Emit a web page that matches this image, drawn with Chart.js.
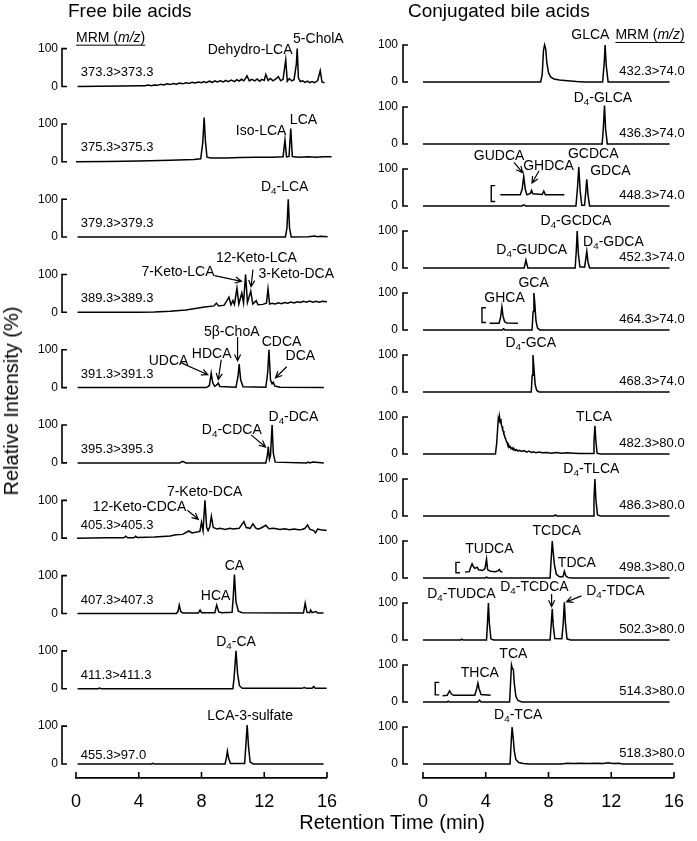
<!DOCTYPE html>
<html>
<head>
<meta charset="utf-8">
<script src="https://cdn.jsdelivr.net/npm/chart.js@4.4.0/dist/chart.umd.min.js"></script>
<style>
body{margin:0;background:#fff;width:697px;height:841px;position:relative;overflow:hidden;font-family:"Liberation Sans",Arial,sans-serif;color:#000}
canvas{position:absolute;top:0}
.t{position:absolute;white-space:nowrap;line-height:1}
</style>
</head>
<body>
<canvas id="cl" width="350" height="841" style="left:0"></canvas>
<canvas id="cr" width="347" height="841" style="left:350px"></canvas>
<div class="t" style="left:68px;top:1px;font-size:19px">Free bile acids</div>
<div class="t" style="left:408px;top:1px;font-size:19px">Conjugated bile acids</div>
<div class="t" style="left:11px;top:401px;font-size:20px;transform:translate(-50%,-50%) rotate(-90deg)">Relative Intensity (%)</div>
<div class="t" style="left:392px;top:822px;font-size:20px;transform:translate(-50%,-50%)">Retention Time (min)</div>
<script>
const F='"Liberation Sans", Arial, sans-serif';
const X_TICKS=[0,4,8,12,16];
const Y_TICKS=[0,100];

// MRM transitions, top to bottom
const LEFT_MRM=['373.3>373.3','375.3>375.3','379.3>379.3','389.3>389.3','391.3>391.3','395.3>395.3','405.3>405.3','407.3>407.3','411.3>411.3','455.3>97.0'];
const RIGHT_MRM=['432.3>74.0','436.3>74.0','448.3>74.0','452.3>74.0','464.3>74.0','468.3>74.0','482.3>80.0','486.3>80.0','498.3>80.0','502.3>80.0','514.3>80.0','518.3>80.0'];
const LEFT_MRM_V=[37,37,37,36,36,36,34,34,34,24];

// free bile acids traces [time, relative intensity]
const T373=[[0.1,0],[1.5,0.5],[3,1],[4,2],[4.4,2],[4.6,4],[4.8,2],[5.0,4],[5.2,3],[5.4,6],[5.6,4],[5.8,7],[6,5],[6.2,8],[6.4,6],[6.6,9],[6.8,7],[7.0,10],[7.2,8],[7.4,11],[7.6,9],[7.8,12],[8,10],[8.15,13],[8.3,10],[8.5,14],[8.7,11],[8.85,15],[9,12],[9.2,15],[9.4,12],[9.55,16],[9.7,13],[9.9,17],[10.1,13],[10.25,18],[10.4,14],[10.55,19],[10.7,15],[10.9,28],[11.05,15],[11.2,19],[11.4,15],[11.55,20],[11.7,14],[11.85,19],[12,16],[12.1,32],[12.25,16],[12.4,21],[12.55,15],[12.7,19],[12.9,26],[13.05,15],[13.2,19],[13.37,71],[13.47,14],[13.6,21],[13.75,15],[13.9,18],[14.05,60],[14.1,100],[14.18,22],[14.3,13],[14.45,15],[14.6,11],[14.75,14],[14.9,10],[15.05,13],[15.2,10],[15.4,15],[15.57,42],[15.68,12],[15.84,10]];
const T375=[[0,0],[2,1],[4,2],[6,4],[7.5,6],[7.95,8],[8.08,50],[8.17,117],[8.25,55],[8.35,12],[8.6,10],[9.5,10],[10.5,11],[11.5,12],[12.5,12],[13.2,13],[13.32,58],[13.42,13],[13.58,14],[13.69,88],[13.79,14],[14.2,12],[14.8,13],[15.3,12],[15.8,13],[16.29,13]];
const T379=[[0.1,0],[13.35,0],[13.45,25],[13.53,100],[13.61,25],[13.72,0],[14.8,1],[15.2,3],[15.4,1],[15.6,2],[16.04,1]];
const T389=[[0.1,0],[4,0],[5,1],[6,3],[7,6],[7.6,10],[8.2,14],[8.8,17],[8.95,24],[9.1,17],[9.45,19],[9.75,40],[9.88,20],[10.0,31],[10.1,21],[10.26,64],[10.38,22],[10.57,51],[10.68,25],[10.81,100],[10.93,26],[11.14,56],[11.27,22],[11.49,31],[11.6,20],[11.9,21],[12.14,24],[12.24,62],[12.34,22],[12.5,24],[12.7,22],[12.9,25],[13.1,23],[13.3,26],[13.5,24],[13.7,27],[13.9,25],[14.1,28],[14.3,26],[14.5,29],[14.7,27],[14.9,30],[15.1,27],[15.3,29],[15.5,27],[15.7,29],[16.0,28]];
const T391=[[0.1,0],[8.3,0],[8.5,5],[8.62,38],[8.72,12],[8.85,3],[9.0,8],[9.07,12],[9.17,3],[10.2,1],[10.33,30],[10.4,62],[10.5,20],[10.65,2],[12.1,1],[12.22,40],[12.3,100],[12.4,20],[12.5,10],[12.57,14],[12.68,4],[13,1],[15.8,0]];
const T395=[[0.1,0],[6.6,0],[6.8,4],[7.0,0],[12.1,0],[12.2,20],[12.26,43],[12.33,10],[12.4,20],[12.5,100],[12.58,25],[12.7,2],[14.7,0],[14.8,2],[14.9,0],[15.1,2],[15.8,0]];
const T405=[[0.06,0],[2,1],[3.05,1],[3.17,5],[3.3,1],[3.7,1],[3.8,5],[3.9,2],[5,3],[6,6],[6.37,9],[6.8,10],[7.19,19],[7.4,14],[7.7,16],[7.9,18],[8.0,42],[8.1,20],[8.22,100],[8.33,28],[8.42,20],[8.53,30],[8.63,58],[8.75,28],[9.0,24],[9.2,26],[9.5,23],[9.8,26],[10,24],[10.4,26],[10.7,44],[10.85,28],[11.1,26],[11.28,38],[11.45,27],[11.6,24],[11.8,27],[12.1,34],[12.3,25],[12.6,26],[13,23],[13.3,25],[13.6,22],[13.9,24],[14.2,22],[14.4,23],[14.6,26],[14.76,35],[14.9,24],[15.15,20],[15.27,14],[15.4,24],[15.6,22],[15.98,20]];
const T407=[[0.1,0],[6.4,0],[6.5,5],[6.58,22],[6.68,5],[6.8,1],[7.8,1],[7.91,9],[8.0,2],[8.85,2],[8.97,22],[9.1,4],[9.3,2],[9.95,3],[10.02,40],[10.1,103],[10.2,30],[10.35,6],[10.6,2],[14.5,1],[14.61,27],[14.72,3],[14.9,2],[14.96,9],[15.05,2],[15.3,5],[15.4,1],[15.78,1]];
const T411=[[0.1,0],[1.4,0],[1.5,2],[1.6,0],[10.0,0],[10.08,30],[10.2,100],[10.3,40],[10.42,8],[10.6,1],[14.4,1],[14.55,3],[14.7,1],[15.05,1],[15.16,6],[15.25,1],[15.98,1]];
const T455=[[0.1,0],[4.8,0],[4.9,2],[5.0,0],[9.5,0],[9.58,15],[9.65,34],[9.73,15],[9.85,1],[10.75,1],[10.83,50],[10.91,103],[11.0,45],[11.1,5],[11.3,0],[15.78,0]];

// conjugated bile acids traces
const T432=[[0,0],[7.5,0],[7.6,20],[7.68,85],[7.75,100],[7.82,90],[7.9,50],[8.0,25],[8.15,13],[8.35,8],[8.7,5],[9.2,3],[9.8,1],[10.3,0],[11.45,0],[11.55,50],[11.61,100],[11.68,45],[11.8,0],[15.72,0]];
const T436=[[0,0],[11.42,0],[11.5,45],[11.57,104],[11.64,40],[11.75,0],[15.72,0]];
const T448=[[0,0],[6.3,0],[6.42,3],[6.55,0],[9.75,0],[9.85,50],[9.93,105],[10.02,40],[10.12,2],[10.3,2],[10.38,40],[10.44,72],[10.52,30],[10.62,0],[15.72,0]];
const T452=[[0,0],[6.45,0],[6.56,21],[6.68,0],[9.7,0],[9.77,45],[9.83,100],[9.9,40],[10.0,3],[10.3,2],[10.38,25],[10.44,45],[10.52,15],[10.62,0],[15.72,0]];
const T464=[[0,0],[5.05,0],[5.13,3],[5.22,0],[6.95,0],[7.02,50],[7.07,100],[7.13,70],[7.2,25],[7.3,5],[7.45,0],[15.72,0]];
const T468=[[0,0],[6.9,0],[6.96,45],[7.01,100],[7.07,65],[7.15,20],[7.25,4],[7.4,0],[15.72,0]];
const T482=[[0,0],[4.62,0],[4.7,30],[4.76,70],[4.8,95],[4.84,86],[4.88,100],[4.92,84],[4.96,95],[5.0,78],[5.04,74],[5.08,64],[5.12,62],[5.16,52],[5.2,50],[5.24,42],[5.28,40],[5.32,33],[5.36,31],[5.4,25],[5.45,26],[5.5,19],[5.56,20],[5.62,14],[5.68,16],[5.74,11],[5.8,14],[5.88,9],[5.95,12],[6.05,8],[6.15,10],[6.3,7],[6.45,9],[6.6,5],[6.75,8],[6.9,4],[7.05,6],[7.2,3],[7.4,5],[7.6,3],[7.9,4],[8.2,2],[8.5,4],[8.8,2],[9.2,3],[9.6,2],[10.0,1],[10.85,1],[10.9,35],[10.96,76],[11.02,35],[11.1,2],[11.3,0],[15.72,0]];
const T486=[[0,0],[8.35,0],[8.44,3],[8.53,0],[10.85,0],[10.9,45],[10.96,100],[11.02,45],[11.12,3],[11.3,0],[15.72,0]];
const T498=[[0,0],[3.95,0],[4.05,2],[4.15,0],[8.1,0],[8.17,50],[8.24,100],[8.3,70],[8.38,35],[8.5,10],[8.7,3],[8.92,3],[9.01,18],[9.1,6],[9.25,1],[9.5,0],[15.72,0]];
const T502=[[0,0],[2.4,0],[2.47,2],[2.55,0],[4.05,0],[4.11,45],[4.17,100],[4.23,45],[4.33,3],[4.5,0],[8.1,0],[8.17,40],[8.24,84],[8.3,40],[8.4,4],[8.85,3],[8.94,45],[9.01,102],[9.08,45],[9.18,3],[9.4,0],[15.72,0]];
const T514=[[0,0],[1.55,0],[1.61,2],[1.68,0],[3.5,0],[3.6,5],[3.7,0],[5.52,0],[5.58,50],[5.64,100],[5.7,90],[5.76,88],[5.82,50],[5.92,15],[6.05,4],[6.3,0],[15.72,0]];
const T518=[[0,0],[5.55,0],[5.61,50],[5.68,100],[5.75,70],[5.82,35],[5.92,12],[6.1,4],[6.4,1],[6.8,0],[8.8,0],[9.2,2],[9.6,1],[10.0,2],[10.5,1],[11.0,2],[11.5,1],[11.8,3],[12.1,1],[12.5,2],[12.7,0],[15.96,0]];

// magnified insets (panel index, trace)
const I448=[[4.93,30],[6.2,30],[6.32,45],[6.42,80],[6.52,45],[6.62,30],[6.85,34],[6.92,42],[7.0,33],[7.6,31],[7.7,40],[7.8,30],[9.01,30]];
const I464=[[4.25,18],[4.85,18],[4.95,35],[5.03,62],[5.1,38],[5.2,22],[5.35,19],[6.05,18]];
const I498=[[2.68,16],[2.95,17],[3.05,30],[3.13,38],[3.22,30],[3.3,26],[3.45,29],[3.55,22],[3.8,20],[3.95,25],[4.05,51],[4.12,22],[4.3,18],[4.6,17],[4.78,19],[4.86,23],[4.95,17],[5.07,16]];
const I514=[[1.25,17],[1.55,18],[1.65,27],[1.7,30],[1.8,22],[1.95,18],[3.3,18],[3.42,35],[3.5,51],[3.58,35],[3.7,20],[4.31,18]];

const LEFT_TRACES=[T373,T375,T379,T389,T391,T395,T405,T407,T411,T455];
const RIGHT_TRACES=[T432,T436,T448,T452,T464,T468,T482,T486,T498,T502,T514,T518];
const RIGHT_INSETS=[[2,I448],[4,I464],[8,I498],[10,I514]];
// [panel, time, low, high]
const INSET_BRACKETS=[[2,4.35,12,55],[4,3.76,20,60],[8,2.1,14,42],[10,0.78,19,53]];

// peak names [panel, time, level, text]
const LEFT_LABELS=[[0,11.1,95,'Dehydro-LCA'],[0,15.45,126,'5-CholA'],[1,11.8,81,'Iso-LCA'],[1,14.5,110,'LCA'],[2,13.3,132,'D_4-LCA'],
 [3,6.5,105,'7-Keto-LCA'],[3,11.5,142,'12-Keto-LCA'],[3,14.04,100,'3-Keto-DCA'],
 [4,5.9,71,'UDCA'],[4,8.65,89,'HDCA'],[4,9.93,147,'5β-ChoA'],[4,13.1,121,'CDCA'],[4,14.3,82,'DCA'],
 [5,9.93,87,'D_4-CDCA'],[5,13.86,121,'D_4-DCA'],[6,4.05,82,'12-Keto-CDCA'],[6,8.2,121,'7-Keto-DCA'],
 [7,8.9,47,'HCA'],[7,10.1,126,'CA'],[8,10.2,124,'D_4-CA'],[9,11.1,126,'LCA-3-sulfate']];
const LEFT_ARROWS=[[3,8.83,97,10.55,82],[3,11.28,113,11.16,68],[4,6.68,66,8.4,34],[4,9.26,74,9.07,21],[4,10.3,134,10.3,71],[4,13.43,55,12.72,26],[5,11.16,74,12.08,42],[6,7.1,74,7.8,50]];
const RIGHT_LABELS=[[0,10.67,127,'GLCA'],[1,11.47,124,'D_4-GLCA'],[2,4.85,135,'GUDCA'],[2,8.0,108,'GHDCA'],[2,10.85,140,'GCDCA'],[2,11.95,95,'GDCA'],
 [3,9.75,127,'D_4-GCDCA'],[3,12.14,70,'D_4-GDCA'],[3,6.93,49,'D_4-GUDCA'],[4,5.2,86,'GHCA'],[4,7.05,127,'GCA'],[5,6.87,132,'D_4-GCA'],
 [6,10.9,100,'TLCA'],[7,10.73,127,'D_4-TLCA'],[8,4.23,78,'TUDCA'],[8,8.52,127,'TCDCA'],[8,9.81,41,'TDCA'],
 [9,2.45,124,'D_4-TUDCA'],[9,7.1,143,'D_4-TCDCA'],[9,12.26,132,'D_4-TDCA'],[10,3.62,78,'THCA'],[10,5.76,130,'TCA'],[11,6.07,132,'D_4-TCA']];
const RIGHT_ARROWS=[[2,5.8,118,6.35,90],[2,7.4,95,6.95,62],[9,8.2,124,8.2,90],[9,10.1,119,9.15,103]];

function setFont(ctx,size,style){ctx.font=(style||'')+' '+size+'px '+F;}
function drawRich(ctx,str,x,y,size,align){
  const parts=str.split(/_(\d)/);
  let w=0;
  parts.forEach((p,i)=>{setFont(ctx,i%2?size*0.7:size);w+=ctx.measureText(p).width;});
  let cx=align==='left'?x:align==='right'?x-w:x-w/2;
  ctx.textAlign='left';ctx.textBaseline='middle';
  parts.forEach((p,i)=>{
    const sub=i%2;setFont(ctx,sub?size*0.7:size);
    ctx.fillText(p,cx,y+(sub?size*0.3:0));cx+=ctx.measureText(p).width;
  });
}
function drawMRM(ctx,x,y,align){
  setFont(ctx,14);const wa=ctx.measureText('MRM (').width,wc=ctx.measureText(')').width;
  setFont(ctx,14,'italic');const wm=ctx.measureText('m/z').width;
  const w=wa+wm+wc,x0=align==='right'?x-w:x;
  ctx.textAlign='left';ctx.textBaseline='middle';
  setFont(ctx,14);ctx.fillText('MRM (',x0,y);ctx.fillText(')',x0+wa+wm,y);
  setFont(ctx,14,'italic');ctx.fillText('m/z',x0+wa,y);
  ctx.lineWidth=1;ctx.beginPath();ctx.moveTo(x0,y+7.5);ctx.lineTo(x0+w,y+7.5);ctx.stroke();
}
function arrow(ctx,x1,y1,x2,y2){
  const a=Math.atan2(y2-y1,x2-x1),h=7;
  ctx.beginPath();ctx.moveTo(x1,y1);ctx.lineTo(x2,y2);
  ctx.moveTo(x2-h*Math.cos(a-0.45),y2-h*Math.sin(a-0.45));ctx.lineTo(x2,y2);
  ctx.lineTo(x2-h*Math.cos(a+0.45),y2-h*Math.sin(a+0.45));ctx.stroke();
}

const overlay={id:'overlay',afterDatasetsDraw(chart,args,o){
  const ctx=chart.ctx,xs=chart.scales.x,ca=chart.chartArea;
  const Y=i=>chart.scales['y'+i];
  const px=t=>xs.getPixelForValue(t);
  ctx.save();ctx.strokeStyle='#000';ctx.fillStyle='#000';ctx.lineCap='butt';
  // intensity brackets
  ctx.lineWidth=1.6;
  o.mrm.forEach((m,i)=>{
    const s=Y(i),x0=ca.left-o.gap,t=s.getPixelForValue(Y_TICKS[1]),b=s.getPixelForValue(Y_TICKS[0]);
    ctx.beginPath();ctx.moveTo(x0+5,t);ctx.lineTo(x0,t);ctx.lineTo(x0,b);ctx.lineTo(x0+5,b);ctx.stroke();
  });
  // x-axis ticks pointing up
  xs.ticks.forEach(tk=>{const x=px(tk.value);ctx.beginPath();ctx.moveTo(x,ca.bottom);ctx.lineTo(x,ca.bottom-6);ctx.stroke();});
  // inset brackets
  ctx.lineWidth=1.4;
  (o.insetBrackets||[]).forEach(([p,t,lo,hi])=>{
    const s=Y(p),x=px(t),y1=s.getPixelForValue(hi),y2=s.getPixelForValue(lo);
    ctx.beginPath();ctx.moveTo(x+4,y1);ctx.lineTo(x,y1);ctx.lineTo(x,y2);ctx.lineTo(x+4,y2);ctx.stroke();
  });
  // MRM transitions
  setFont(ctx,13);
  o.mrm.forEach((m,i)=>{
    ctx.textAlign=o.mrmAlign;ctx.textBaseline='middle';
    ctx.fillText(m,px(o.mrmT),Y(i).getPixelForValue(o.mrmV[i]));
  });
  drawMRM(ctx,px(o.head[0]),Y(0).getPixelForValue(o.head[1]),o.mrmAlign);
  // peak names and arrows
  o.labels.forEach(([p,t,v,txt])=>drawRich(ctx,txt,px(t),Y(p).getPixelForValue(v),14,'center'));
  ctx.lineWidth=1.2;
  o.arrows.forEach(([p,t1,v1,t2,v2])=>arrow(ctx,px(t1),Y(p).getPixelForValue(v1),px(t2),Y(p).getPixelForValue(v2)));
  ctx.restore();
}};

function build(id,traces,insets,cfg){
  const scales={x:{type:'linear',position:'bottom',min:0,max:16,
    afterBuildTicks:s=>{s.ticks=X_TICKS.map(v=>({value:v}));},
    afterFit:s=>{s.height=63;},
    ticks:{font:{size:18,family:F},color:'#000',padding:13,maxRotation:0},
    grid:{display:false,drawTicks:false},border:{display:true,color:'#000',width:1.7}}};
  // later axes in the stack are placed higher, so add the bottom panel first
  for(let i=traces.length-1;i>=0;i--){
    scales['y'+i]={type:'linear',position:'left',stack:'panels',stackWeight:1,min:cfg.lo,max:cfg.hi,
      afterBuildTicks:s=>{s.ticks=Y_TICKS.map(v=>({value:v}));},
      afterFit:s=>{s.width=cfg.axisW;},
      ticks:{font:{size:12,family:F},color:'#000',padding:cfg.tickPad},
      grid:{display:false,drawTicks:false},border:{display:false}};
  }
  const ds=traces.map((d,i)=>({data:d,yAxisID:'y'+i}));
  insets.forEach(([p,d])=>ds.push({data:d,yAxisID:'y'+p}));
  ds.forEach(d=>Object.assign(d,{borderColor:'#000',borderWidth:1.5,pointRadius:0,fill:false,tension:0,clip:false}));
  new Chart(document.getElementById(id),{type:'line',data:{datasets:ds},plugins:[overlay],
    options:{responsive:false,animation:false,
      layout:{padding:{top:cfg.top,right:13,left:0,bottom:0}},
      plugins:{legend:{display:false},tooltip:{enabled:false},overlay:cfg.overlay},
      scales}});
}

build('cl',LEFT_TRACES,[],{lo:-37,hi:162,axisW:76,tickPad:18,top:21,
  overlay:{gap:14,mrm:LEFT_MRM,mrmAlign:'left',mrmT:0.3,mrmV:LEFT_MRM_V,head:[0,129],labels:LEFT_LABELS,arrows:LEFT_ARROWS}});
build('cr',RIGHT_TRACES,RIGHT_INSETS,{lo:-38,hi:129.6,axisW:73,tickPad:25,top:34,
  overlay:{gap:20,mrm:RIGHT_MRM,mrmAlign:'right',mrmT:16.68,mrmV:RIGHT_MRM.map(()=>28),head:[16.68,127],labels:RIGHT_LABELS,arrows:RIGHT_ARROWS,insetBrackets:INSET_BRACKETS}});
</script>
</body>
</html>
